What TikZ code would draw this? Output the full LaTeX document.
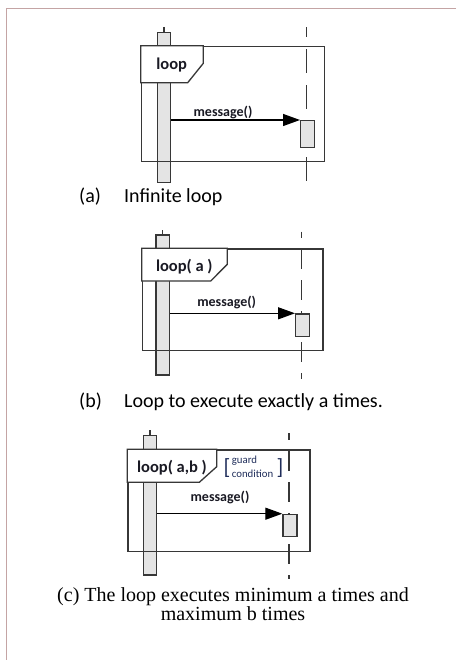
\documentclass[tikz,border=0pt]{standalone}
\usepackage{fontspec}
\newfontfamily\carlito{Carlito}
\newfontfamily\lserif{Liberation Serif}
\usetikzlibrary{arrows.meta}
\definecolor{linec}{RGB}{55,55,55}
\definecolor{actfill}{RGB}{228,228,228}
\definecolor{edgec}{RGB}{196,164,164}
\definecolor{guardc}{RGB}{31,45,90}
\definecolor{txtc}{RGB}{25,25,35}
\begin{document}
\begin{tikzpicture}[x=1pt,y=-1pt,
  framebox/.style={draw=linec,line width=1.3pt,rectangle,inner sep=0pt,anchor=north west},
  tab/.style={draw=linec,line width=1.3pt,fill=white,line join=miter},
  actbar/.style={draw=linec,fill=actfill,line width=1.2pt,rectangle,inner sep=0pt,minimum width=13.4pt},
  actbox/.style={draw=linec,fill=actfill,line width=1.2pt,rectangle,inner sep=0pt,minimum width=14pt,anchor=north west},
  stub/.style={draw=linec,line width=1.2pt},
  lifeline/.style={draw=linec,line width=1.4pt},
  msg/.style={draw=black,line width=1.3pt,-{Triangle[length=17pt,width=12pt]}},
  msglabel/.style={font=\carlito\bfseries\fontsize{14}{17}\selectfont,text=txtc,inner sep=0pt},
  looplabel/.style={font=\carlito\bfseries\fontsize{16.5}{19}\selectfont,text=txtc,inner sep=0pt},
  caption/.style={font=\carlito\fontsize{20}{24}\selectfont,text=black,inner sep=0pt,anchor=base west},
  guardtext/.style={font=\carlito\fontsize{10.8}{12}\selectfont,text=guardc,inner sep=0pt,anchor=west},
  bracket/.style={font=\carlito\fontsize{22}{24}\selectfont,text=guardc,inner sep=0pt}
]
\useasboundingbox (0,0) rectangle (456,660);
% page edge
\draw[edgec,line width=1pt] (456,9) -- (6,9) -- (6,660);

% ---------------- (a) infinite loop ----------------
\coordinate (llAtop) at (306.7,27.3);
\coordinate (llAbot) at (306.7,181);
\draw[lifeline,dash pattern=on 24pt off 12pt,dash phase=14pt] (llAtop) -- (llAbot);
\coordinate (stubA) at (164,27);
\node[actbar,minimum height=150pt] (barA) at (164,107.7) {};
\draw[stub] (stubA) -- (barA.north);
\node[framebox,minimum width=183.3pt,minimum height=115pt] (frameA) at (140.7,45.7) {};
\draw[tab] (140.7,45.7) -- (203.3,45.7) -- (203.3,63.3) -- (187.7,82.7) -- (140.7,82.7) -- cycle;
\node[looplabel] (loopA) at (171.7,65.5) {loop};
\node[actbox,minimum height=26.7pt] (boxA) at (300,120) {};
\draw[msg] (barA.east |- boxA.north west) -- (boxA.north west);
\node[msglabel] (msgA) at (223,112) {message()};
\node[caption] (capA) at (79,203) {\makebox[45pt][l]{(a)}Infinite loop};

% ---------------- (b) loop a times ----------------
\coordinate (llBtop) at (301.7,231.7);
\coordinate (llBbot) at (301.7,379);
\draw[lifeline,dash pattern=on 20pt off 11pt,dash phase=13.3pt] (llBtop) -- (llBbot);
\coordinate (stubB) at (162.7,230);
\node[actbar,minimum height=140pt] (barB) at (162.7,305) {};
\draw[stub] (stubB) -- (barB.north);
\node[framebox,minimum width=180.6pt,minimum height=101.7pt] (frameB) at (141.7,248.3) {};
\draw[tab] (141.7,248.3) -- (227.3,248.3) -- (227.3,264.3) -- (210.7,281) -- (141.7,281) -- cycle;
\node[looplabel] (loopB) at (184.3,266.5) {loop( a )};
\node[actbox,minimum height=22.4pt] (boxB) at (295,313.3) {};
\draw[msg] (barB.east |- boxB.north west) -- (boxB.north west);
\node[msglabel] (msgB) at (226.7,302.3) {message()};
\node[caption] (capB) at (79,407) {\makebox[45pt][l]{(b)}Loop to execute exactly a times.};

% ---------------- (c) loop between a and b times ----------------
\coordinate (llCtop) at (289,433.3);
\coordinate (llCbot) at (289,579);
\draw[lifeline,dash pattern=on 20pt off 11pt,dash phase=13.3pt] (llCtop) -- (llCbot);
\coordinate (stubC) at (150,430);
\node[actbar,minimum height=139.3pt] (barC) at (150,505.4) {};
\draw[stub] (stubC) -- (barC.north);
\node[framebox,minimum width=182pt,minimum height=101.7pt] (frameC) at (127.3,449.3) {};
\draw[tab] (127.3,449.3) -- (216.7,449.3) -- (216.7,466.7) -- (199.3,482.3) -- (127.3,482.3) -- cycle;
\node[looplabel] (loopC) at (172,467.7) {loop( a,b )};
\node[bracket] (brL) at (227,468) {[};
\node[guardtext] (guardC) at (231.7,460.7) {guard};
\node[guardtext] (condC) at (231.7,474) {condition};
\node[bracket] (brR) at (280,468) {]};
\node[actbox,minimum height=22.3pt] (boxC) at (282.3,513.7) {};
\draw[msg] (barC.east |- boxC.north west) -- (boxC.north west);
\node[msglabel] (msgC) at (220,497.7) {message()};
\node[font=\lserif\fontsize{20}{19}\selectfont,align=center,inner sep=0pt] (capC) at (233,604)
  {(c) The loop executes minimum a times and\\maximum b times};
\end{tikzpicture}
\end{document}
